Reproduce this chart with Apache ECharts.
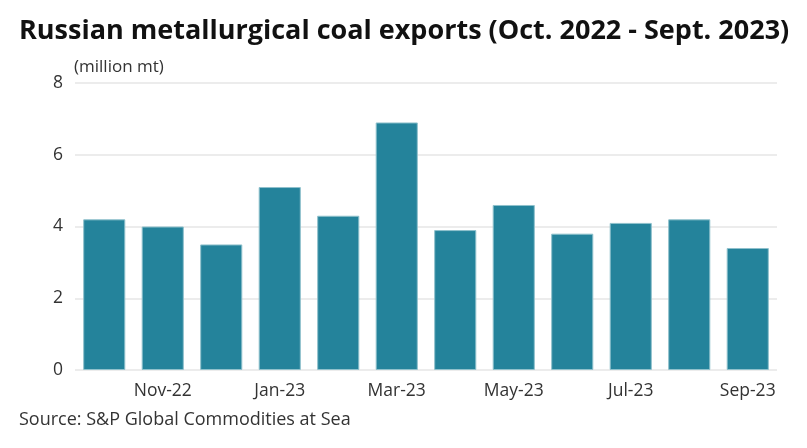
<!DOCTYPE html>
<html style="height: 100%">
<head>
    <meta charset="utf-8">
</head>
<body style="height: 100%; margin: 0; background: #fff">
<div id="container" style="width: 807px; height: 448px"></div>
<script type="text/javascript" src="https://cdn.jsdelivr.net/npm/echarts@6/dist/echarts.min.js"></script>
<script type="text/javascript">
    var months = ['Oct-22', 'Nov-22', 'Dec-22', 'Jan-23', 'Feb-23', 'Mar-23',
                  'Apr-23', 'May-23', 'Jun-23', 'Jul-23', 'Aug-23', 'Sep-23'];
    var exports = [4.2, 4.0, 3.5, 5.1, 4.3, 6.9, 3.9, 4.6, 3.8, 4.1, 4.2, 3.4];
    var yTicks = [0, 2, 4, 6, 8];

    var font = '"Open Sans"';
    var myChart = echarts.init(document.getElementById('container'));

    var option = {
        backgroundColor: '#fff',
        animation: false,
        title: [{
            text: 'Russian metallurgical coal exports (Oct. 2022 - Sept. 2023)',
            left: 14,
            top: 13,
            textStyle: {fontFamily: font, fontSize: 27, fontWeight: 'bold', color: '#111'}
        }, {
            text: 'Source: S&P Global Commodities at Sea',
            left: 14,
            top: 406,
            textStyle: {fontFamily: font, fontSize: 18, fontWeight: 'normal', color: '#333'}
        }],
        grid: {left: 75, right: 30, top: 83, bottom: 78},
        xAxis: {
            type: 'category',
            data: months,
            axisLine: {show: false},
            axisTick: {show: false},
            axisLabel: {
                interval: function (index) { return index % 2 === 1; },
                margin: 12,
                fontFamily: font,
                fontSize: 17.5,
                color: '#333'
            }
        },
        yAxis: {
            type: 'value',
            min: yTicks[0],
            max: yTicks[yTicks.length - 1],
            interval: 2,
            name: '(million mt)',
            nameLocation: 'end',
            nameGap: 7,
            nameTextStyle: {fontFamily: font, fontSize: 17, color: '#333', align: 'left', padding: [0, 0, 0, -1]},
            axisLabel: {fontFamily: font, fontSize: 17.5, color: '#333', margin: 12},
            splitLine: {lineStyle: {color: '#e6e6e6', width: 1.5}}
        },
        series: [{
            type: 'bar',
            data: exports,
            barWidth: '72%',
            itemStyle: {color: '#24839b', borderColor: '#8fc1cc', borderWidth: 1}
        }]
    };

    myChart.setOption(option);
</script>
</body>
</html>
